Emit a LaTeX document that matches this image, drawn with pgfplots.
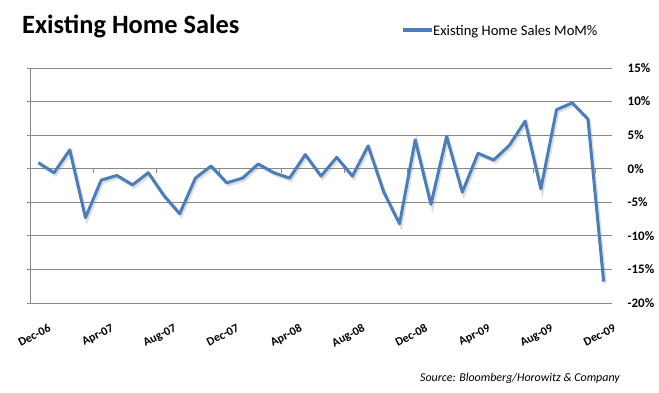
\documentclass[border=0pt]{standalone}
\usepackage{fontspec}
\setmainfont{Carlito}
\usepackage{pgfplots}
\pgfplotsset{compat=1.18}
\definecolor{xlblue}{HTML}{4A7EBB}
\definecolor{gridgray}{HTML}{888888}
\begin{document}
\begin{tikzpicture}[x=1bp,y=1bp]
\path[use as bounding box] (0,0) rectangle (659,392);
\begin{axis}[at={(30.5bp,89bp)}, anchor=south west, scale only axis,
 width=581bp, height=235bp,
 xmin=-0.5, xmax=36.5, ymin=-20, ymax=15,
 ytick={-20,-15,...,15},
 ymajorgrids, grid style={gridgray, line width=0.8bp},
 axis line style={draw=none},
 ytick pos=left, yticklabel pos=right, tick align=outside, major tick length=4bp,
 ytick style={gridgray, line width=0.8bp},
 yticklabel={\pgfmathprintnumber{\tick}\%},
 yticklabel style={font=\bfseries\fontsize{13}{15}\selectfont, anchor=west, inner sep=0pt, xshift=12bp},
 xtick={0,4,...,36},
 xticklabels={Dec-06,Apr-07,Aug-07,Dec-07,Apr-08,Aug-08,Dec-08,Apr-09,Aug-09,Dec-09},
 xtick style={draw=none},
 xticklabel style={font=\bfseries\fontsize{12}{14}\selectfont, rotate=27, anchor=north east, inner sep=0pt, xshift=1bp, yshift=-19bp},
 /pgf/number format/assume math mode=true,
 clip=false,
]
\draw[gridgray, line width=0.8bp] (axis cs:-0.5,-20) -- (axis cs:-0.5,15);
\pgfplotsinvokeforeach{3.5,7.5,11.5,15.5,19.5,23.5,27.5,31.5,35.5}{
  \draw[gridgray, line width=0.8bp] (axis cs:#1,0) -- ([yshift=-4bp]axis cs:#1,0);
}
\addplot[black!60, opacity=0.22, line width=3.2bp, xshift=1.5bp, yshift=-2bp, forget plot] coordinates {
(0,0.9)(1,-0.6)(2,2.8)(3,-7.3)(4,-1.7)(5,-1.0)(6,-2.4)(7,-0.6)(8,-4.0)(9,-6.7)
(10,-1.4)(11,0.4)(12,-2.1)(13,-1.4)(14,0.7)(15,-0.6)(16,-1.4)(17,2.1)(18,-1.1)(19,1.7)
(20,-1.1)(21,3.4)(22,-3.5)(23,-8.2)(24,4.3)(25,-5.3)(26,4.8)(27,-3.5)(28,2.3)(29,1.3)
(30,3.5)(31,7.1)(32,-3.0)(33,8.8)(34,9.8)(35,7.4)(36,-16.8)};
\addplot[xlblue, line width=3bp, line join=round] coordinates {
(0,0.9)(1,-0.6)(2,2.8)(3,-7.3)(4,-1.7)(5,-1.0)(6,-2.4)(7,-0.6)(8,-4.0)(9,-6.7)
(10,-1.4)(11,0.4)(12,-2.1)(13,-1.4)(14,0.7)(15,-0.6)(16,-1.4)(17,2.1)(18,-1.1)(19,1.7)
(20,-1.1)(21,3.4)(22,-3.5)(23,-8.2)(24,4.3)(25,-5.3)(26,4.8)(27,-3.5)(28,2.3)(29,1.3)
(30,3.5)(31,7.1)(32,-3.0)(33,8.8)(34,9.8)(35,7.4)(36,-16.8)};
\end{axis}
\node[anchor=base west, font=\bfseries\fontsize{26.5}{30}\selectfont, inner sep=0pt] at (22,359) {Existing Home Sales};
\draw[xlblue, line width=3.2bp] (403,362) -- (432,362);
\node[anchor=base west, font=\fontsize{14.7}{17}\selectfont, inner sep=0pt] at (433,356.5) {Existing Home Sales MoM\%};
\node[anchor=east, font=\itshape\fontsize{12}{14}\selectfont, inner sep=0pt] at (620,14) {Source: Bloomberg/Horowitz \& Company};
\end{tikzpicture}
\end{document}
